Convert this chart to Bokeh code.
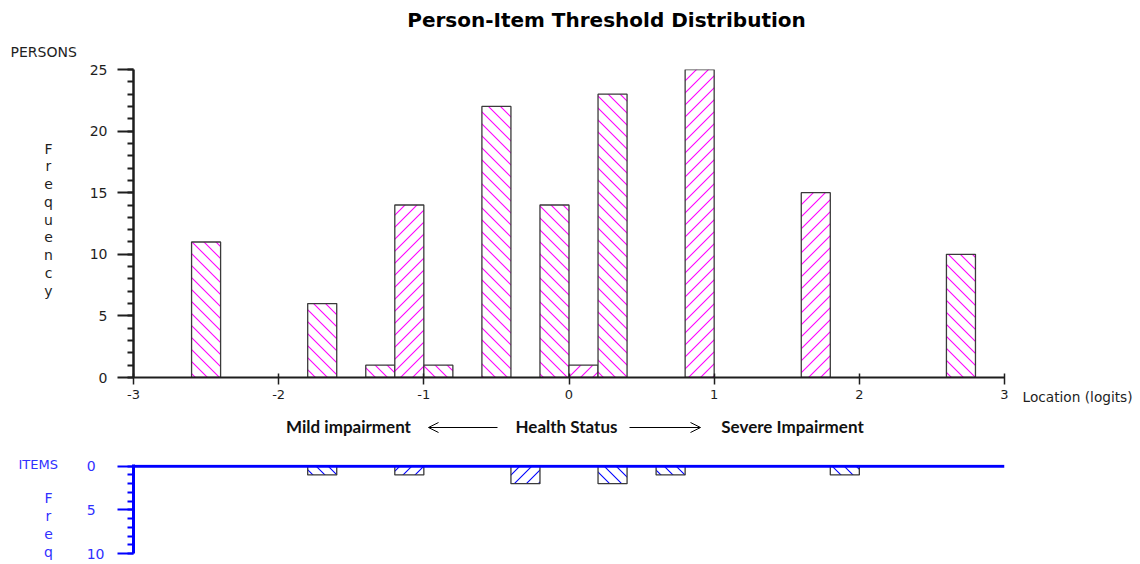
import base64
from bokeh.plotting import figure
from bokeh.models import (Range1d, FixedTicker, Label, Arrow, OpenHead, ColumnDataSource,
                          Span, ImageURLTexture)
from bokeh.layouts import column, row
from bokeh.embed import file_html
from bokeh.resources import INLINE

# ---- data ----
person_loc = [-2.5, -1.7, -1.3, -1.1, -0.9, -0.5, -0.1, 0.1, 0.3, 0.9, 1.7, 2.7]
person_freq = [11, 6, 1, 14, 1, 22, 14, 1, 23, 25, 15, 10]
item_loc = [-1.7, -1.1, -0.3, 0.3, 0.7, 1.9]
item_freq = [1, 1, 2, 2, 1, 1]
bin_width = 0.2
x_ticks = [-3, -2, -1, 0, 1, 2, 3]
person_ticks = [0, 5, 10, 15, 20, 25]
item_ticks = [0, 5, 10]

title_text = "Person-Item Threshold Distribution"
x_title = "Location (logits)"
left_txt, mid_txt, right_txt = "Mild impairment", "Health Status", "Severe Impairment"

MAG = "#ff00ff"
BLUE = "#0000ff"
BLUE_TXT = "#3030ff"
DARK = "#1e1e1e"
FONT = "DejaVu Sans"


def url_tex(color, back):
    if back:
        d = "M-1,-1L13,13M-13,-1L1,13M11,-1L25,13"
    else:
        d = "M-1,13L13,-1M-13,13L1,-1M11,13L25,-1"
    svg = ('<svg xmlns="http://www.w3.org/2000/svg" width="12" height="12">'
           '<path d="%s" stroke="%s" stroke-width="1.1" fill="none"/></svg>' % (d, color))
    return ImageURLTexture(url="data:image/svg+xml;base64," + base64.b64encode(svg.encode()).decode())


def hatches(locs):
    out = []
    for v in locs:
        idx = int(round((v + 3) / bin_width - 0.5))
        out.append("back" if idx % 2 == 0 else "fwd")
    return out


def strip(w, h):
    f = figure(width=w, height=h, x_range=Range1d(0, w), y_range=Range1d(0, h),
               output_backend="svg", toolbar_location=None, x_axis_location=None,
               y_axis_location=None, min_border=0, frame_align=False)
    f.outline_line_color = None
    f.xgrid.visible = False
    f.ygrid.visible = False
    return f


def style_yaxis(ax, ticks, minor, color, lab_color, lw, standoff=10):
    ax.ticker = FixedTicker(ticks=ticks, minor_ticks=minor)
    ax.axis_line_width = lw
    ax.axis_line_color = color
    ax.major_tick_line_width = 2
    ax.major_tick_line_color = color
    ax.major_tick_in = 0
    ax.major_tick_out = 16
    ax.minor_tick_line_width = 2
    ax.minor_tick_line_color = color
    ax.minor_tick_in = 0
    ax.minor_tick_out = 6
    ax.major_label_standoff = standoff
    ax.major_label_text_font = FONT
    ax.major_label_text_font_size = "14px"
    ax.major_label_text_color = lab_color


# ---- header strip (page y 0-60) ----
header = strip(1140, 60)
header.add_layout(Label(x=606, y=41, text=title_text, text_font=FONT, text_font_style="bold",
                        text_font_size="20px", text_align="center", text_baseline="middle",
                        text_color="black"))
header.add_layout(Label(x=10, y=9, text="PERSONS", text_font=FONT, text_font_size="14px",
                        text_align="left", text_baseline="middle", text_color=DARK))

# ---- main persons plot (page y 60-408) ----
MH = 348
left_main = strip(70, MH)
for i, ch in enumerate("Frequency"):
    left_main.add_layout(Label(x=48, y=260 - i * 17.75, text=ch, text_font=FONT,
                               text_font_size="14px", text_align="center",
                               text_baseline="middle", text_color=DARK))

p = figure(width=946, height=MH, x_range=Range1d(-3, 3), y_range=Range1d(0, 25),
           output_backend="svg", toolbar_location=None, frame_align=False,
           min_border_left=63, min_border_right=12, min_border_top=9, min_border_bottom=31)
p.outline_line_color = None
p.grid.visible = False

psrc = ColumnDataSource(dict(x=person_loc, top=person_freq, hatch=hatches(person_loc)))
p.vbar(x="x", top="top", width=bin_width, source=psrc, fill_color="white",
       line_color="#3a3a3a", line_width=1.3, hatch_pattern="hatch", hatch_color=MAG,
       hatch_scale=12, hatch_weight=1,
       hatch_extra={"back": url_tex(MAG, True), "fwd": url_tex(MAG, False)})

xa = p.xaxis[0]
xa.ticker = FixedTicker(ticks=x_ticks, minor_ticks=[])
xa.axis_line_width = 2
xa.axis_line_color = DARK
xa.major_tick_line_width = 1.5
xa.major_tick_line_color = DARK
xa.major_tick_in = 4
xa.major_tick_out = 7
xa.minor_tick_line_color = None
xa.major_label_standoff = 5
xa.major_label_text_font = FONT
xa.major_label_text_font_size = "13px"
xa.major_label_text_color = DARK
xa.major_label_overrides = {-3: "-3", -2: "-2", -1: "-1"}

style_yaxis(p.yaxis[0], person_ticks, list(range(0, 26)), DARK, DARK, 2.5)

right_main = strip(124, MH)
right_main.add_layout(Label(x=6, y=12, text=x_title, text_font=FONT, text_font_size="13.7px",
                            text_align="left", text_baseline="middle", text_color=DARK))

# ---- arrow text strip (page y 408-448) ----
mid = strip(1140, 40)
for txt, cx in [(left_txt, 348), (mid_txt, 566), (right_txt, 792)]:
    mid.add_layout(Label(x=cx, y=22, text=txt, text_font="Lato", text_font_style="bold",
                         text_font_size="17px", text_align="center", text_baseline="middle",
                         text_color="#111111"))
mid.add_layout(Arrow(x_start=497, y_start=21, x_end=428, y_end=21, line_width=1,
                     line_color="black", end=OpenHead(size=10, line_width=1, line_color="black")))
mid.add_layout(Arrow(x_start=629, y_start=21, x_end=700, y_end=21, line_width=1,
                     line_color="black", end=OpenHead(size=10, line_width=1, line_color="black")))

# ---- items panel (page y 448-564) ----
IH = 116
left_items = strip(70, IH)
left_items.add_layout(Label(x=18, y=100, text="ITEMS", text_font=FONT, text_font_size="13px",
                            text_align="left", text_baseline="middle", text_color=BLUE_TXT))
for i, ch in enumerate("Freq"):
    left_items.add_layout(Label(x=48, y=67 - i * 18, text=ch, text_font=FONT,
                                text_font_size="14px", text_align="center",
                                text_baseline="middle", text_color=BLUE_TXT))

p2 = figure(width=1070, height=IH, x_range=p.x_range, y_range=Range1d(10, -0.2),
            output_backend="svg", toolbar_location=None, x_axis_location=None, frame_align=False,
            min_border_left=63, min_border_right=136, min_border_top=16, min_border_bottom=11)
p2.outline_line_color = None
p2.grid.visible = False

isrc = ColumnDataSource(dict(x=item_loc, top=item_freq, hatch=hatches(item_loc)))
p2.vbar(x="x", top="top", bottom=0, width=bin_width, source=isrc, fill_color="white",
        line_color="#3a3a3a", line_width=1.3, hatch_pattern="hatch", hatch_color=BLUE,
        hatch_scale=12, hatch_weight=1,
        hatch_extra={"back": url_tex(BLUE, True), "fwd": url_tex(BLUE, False)})
p2.add_layout(Span(location=0, dimension="width", line_color=BLUE, line_width=3))
style_yaxis(p2.yaxis[0], item_ticks, list(range(0, 11)), BLUE, BLUE_TXT, 3, standoff=13)
# single-digit item labels are left-aligned with the two-digit one in the reference
p2.yaxis[0].major_label_overrides = {0: "0\u2007", 5: "5\u2007"}

layout = column(header, row(left_main, p, right_main), mid, row(left_items, p2))
open("out.html", "w").write(file_html(layout, INLINE))
